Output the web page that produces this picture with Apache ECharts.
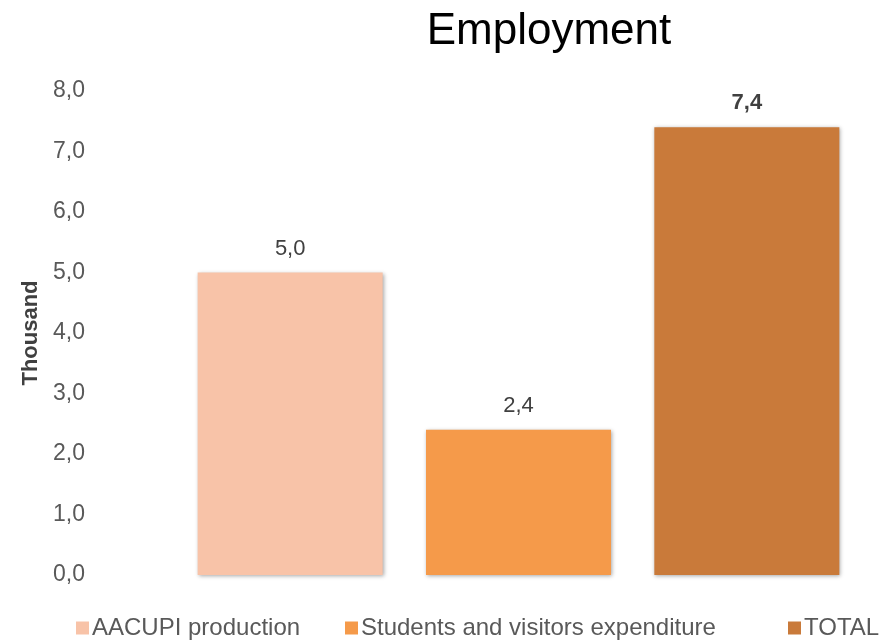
<!DOCTYPE html>
<html><head><meta charset="utf-8">
<script src="https://cdn.jsdelivr.net/npm/echarts@6/dist/echarts.min.js"></script>
<style>html,body{margin:0;padding:0;background:#fff}#c{width:881px;height:641px}</style>
</head><body><div id="c"></div>
<script>
const categories = ['AACUPI production', 'Students and visitors expenditure', 'TOTAL'];
const seriesNames = ['AACUPI production', 'Students and visitors expenditure', 'TOTAL'];
const values = [5.0, 2.4, 7.4];
const yTicks = [0, 1, 2, 3, 4, 5, 6, 7, 8];
const colors = ['#F8C3A8', '#F59A4A', '#C97A3A'];

const fmt = v => Number(v).toFixed(1).replace('.', ',');
const font = 'Liberation Sans';
const legendLefts = [71, 340, 783];

const chart = echarts.init(document.getElementById('c'), null, {renderer: 'canvas'});
chart.setOption({
  animation: false,
  backgroundColor: '#fff',
  title: {
    text: 'Employment', left: 544, top: 5, textAlign: 'center',
    textStyle: {fontFamily: font, fontSize: 44, fontWeight: 'normal', color: '#000'}
  },
  legend: seriesNames.map((n, i) => ({
    bottom: -4, left: legendLefts[i], itemWidth: 13, itemHeight: 13,
    icon: 'rect',
    textStyle: {fontFamily: font, fontSize: 24, color: '#595959', padding: [0, 0, 0, -2]},
    data: [n]
  })),
  grid: {left: 176, right: 20, top: 91, bottom: 66},
  xAxis: {
    type: 'category', data: categories,
    axisLine: {show: false}, axisTick: {show: false}, axisLabel: {show: false}
  },
  yAxis: {
    type: 'value', min: yTicks[0], max: yTicks[yTicks.length - 1], interval: 1,
    name: 'Thousand', nameLocation: 'middle', nameGap: 134,
    nameTextStyle: {fontFamily: font, fontSize: 22, fontWeight: 'bold', color: '#404040'},
    axisLine: {show: false}, axisTick: {show: false}, splitLine: {show: false},
    axisLabel: {margin: 91, fontFamily: font, fontSize: 23, color: '#595959', formatter: fmt}
  },
  series: seriesNames.map((name, i) => ({
    name, type: 'bar', barWidth: 185, barGap: '-100%',
    data: values.map((v, j) => j === i ? v : null),
    itemStyle: {color: colors[i], shadowBlur: 4, shadowColor: 'rgba(0,0,0,0.35)', shadowOffsetX: 1, shadowOffsetY: 1},
    label: {
      show: true, position: 'top', distance: 13, formatter: p => fmt(p.value),
      fontFamily: font, fontSize: 22, color: '#404040',
      fontWeight: i === 2 ? 'bold' : 'normal'
    }
  }))
});
</script></body></html>
